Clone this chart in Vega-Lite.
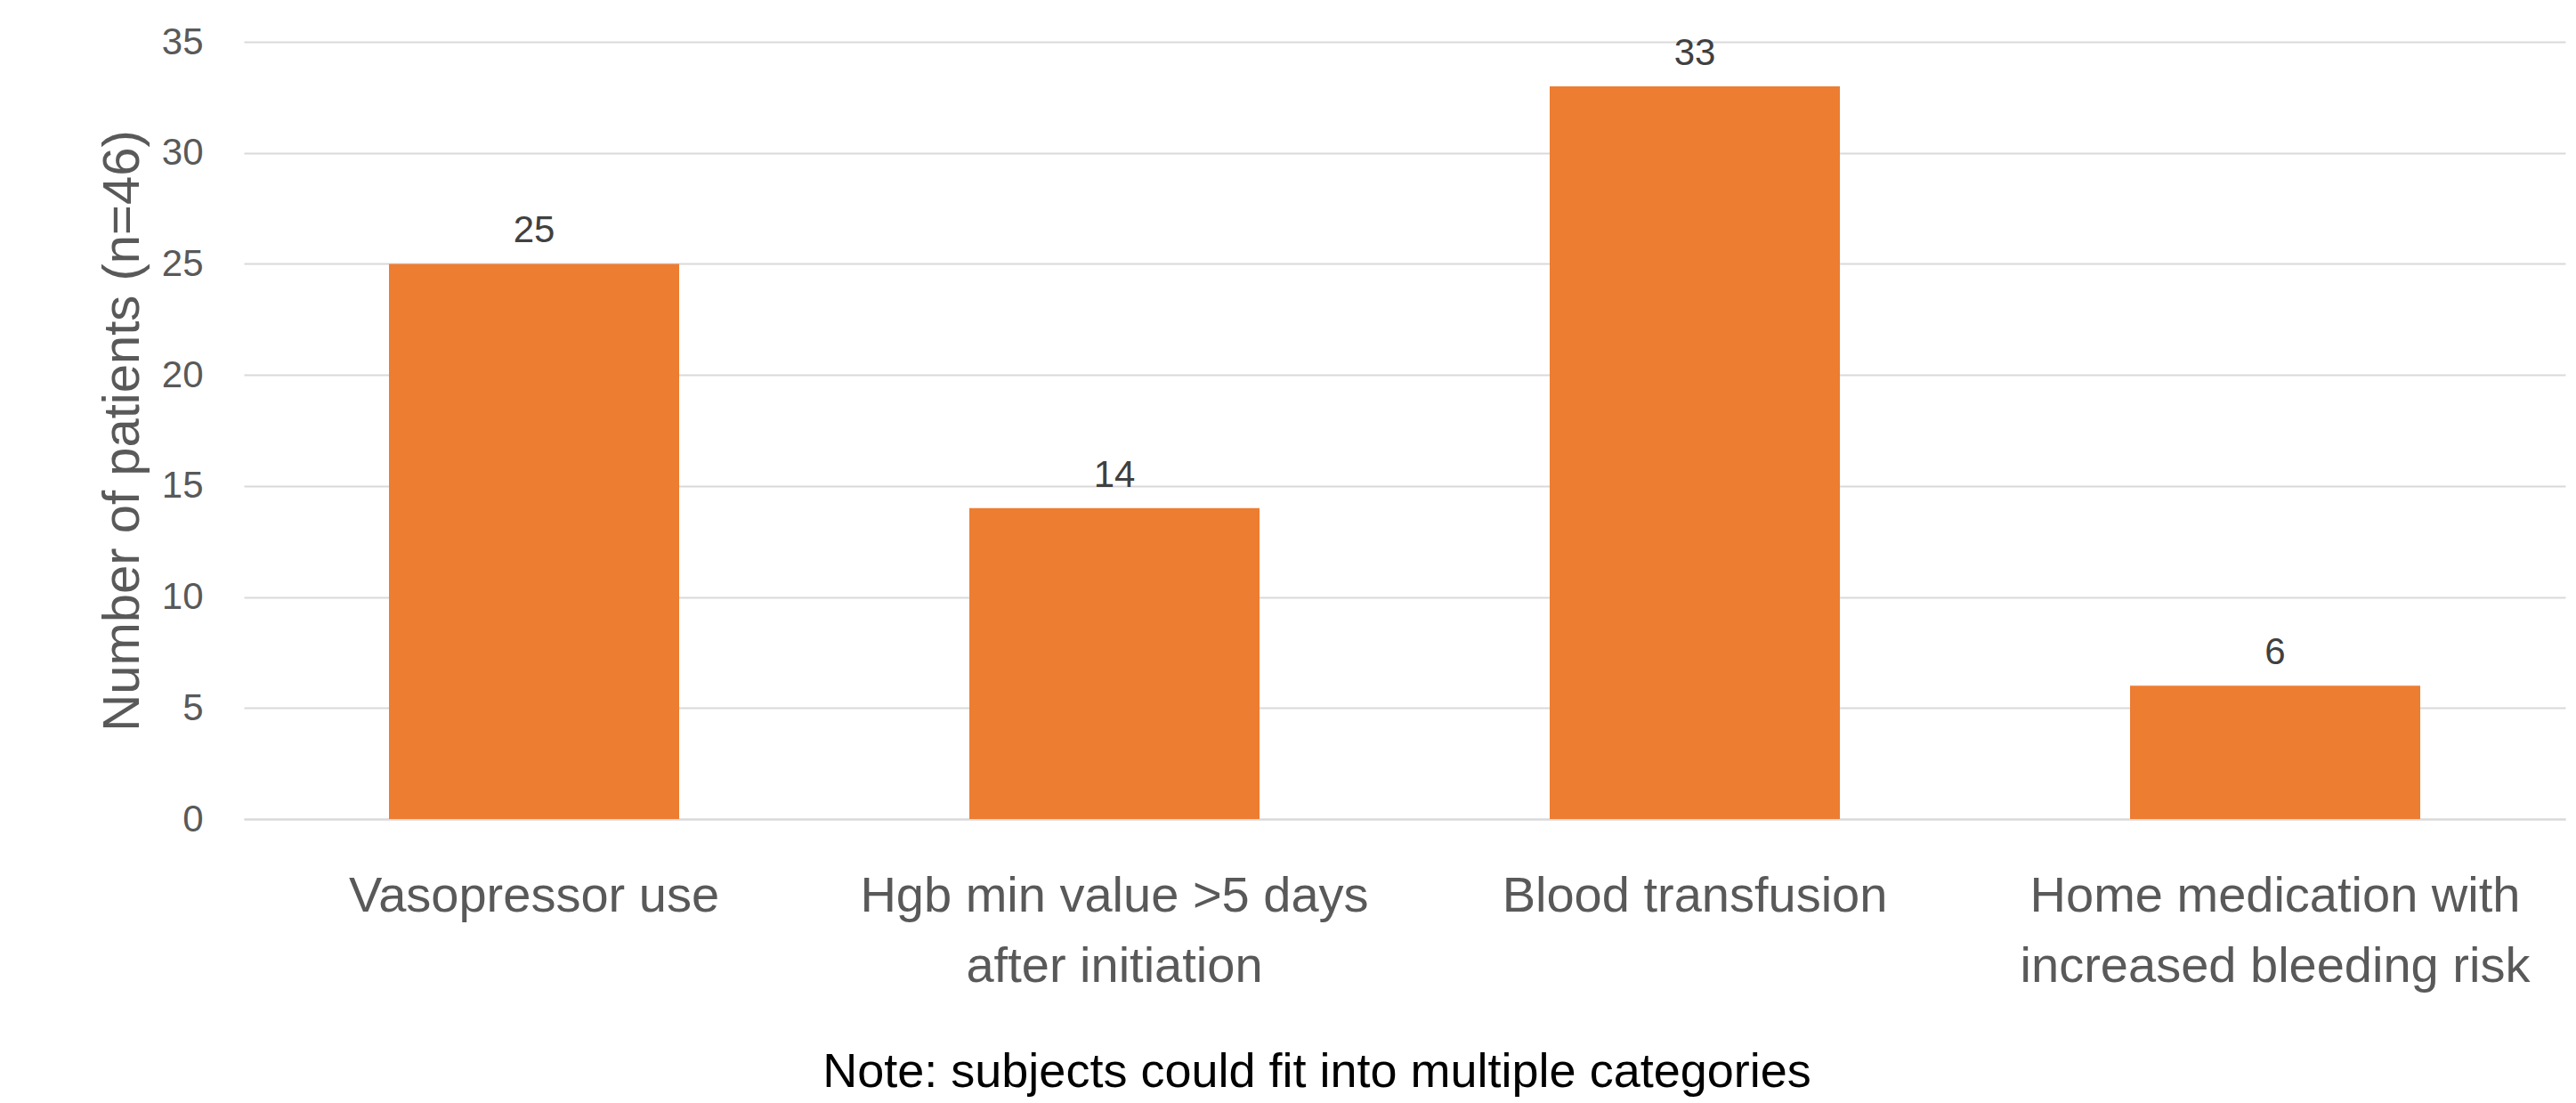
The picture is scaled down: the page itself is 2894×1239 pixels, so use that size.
{
  "$schema": "https://vega.github.io/schema/vega-lite/v6.json",
  "width": 2608,
  "height": 873,
  "autosize": {"type": "none"},
  "padding": {"left": 274, "top": 47, "right": 12, "bottom": 319},
  "background": "white",
  "data": {
    "values": [
      {"category": "Vasopressor use", "patients": 25},
      {"category": "Hgb min value >5 days after initiation", "patients": 14},
      {"category": "Blood transfusion", "patients": 33},
      {"category": "Home medication with increased bleeding risk", "patients": 6}
    ]
  },
  "encoding": {
    "x": {
      "field": "category",
      "type": "nominal",
      "sort": null,
      "scale": {"paddingInner": 0.5, "paddingOuter": 0.25},
      "axis": {
        "title": "Note: subjects could fit into multiple categories",
        "titleFont": "Liberation Sans",
        "titleFontSize": 54,
        "titleFontWeight": "normal",
        "titleColor": "#000000",
        "titleX": 1205,
        "titleY": 300,
        "titleAlign": "center",
        "titleBaseline": "alphabetic",
        "labelAngle": 0,
        "labelFont": "Liberation Sans",
        "labelFontSize": 56,
        "labelColor": "#595959",
        "labelPadding": 59,
        "labelLineHeight": 79,
        "labelLimit": 0,
        "labelExpr": "datum.value == 'Hgb min value >5 days after initiation' ? ['Hgb min value >5 days', 'after initiation'] : datum.value == 'Home medication with increased bleeding risk' ? ['Home medication with', 'increased bleeding risk'] : datum.label",
        "ticks": false,
        "domain": true,
        "domainColor": "#D9D9D9",
        "domainWidth": 2,
        "grid": false
      }
    },
    "y": {
      "field": "patients",
      "type": "quantitative",
      "scale": {"domain": [0, 35], "nice": false},
      "axis": {
        "title": "Number of patients (n=46)",
        "titleFont": "Liberation Sans",
        "titleFontSize": 58,
        "titleFontWeight": "normal",
        "titleColor": "#595959",
        "titlePadding": 14,
        "values": [0, 5, 10, 15, 20, 25, 30, 35],
        "labelFont": "Liberation Sans",
        "labelFontSize": 42,
        "labelColor": "#595959",
        "labelPadding": 46,
        "ticks": false,
        "domain": false,
        "grid": true,
        "gridColor": "#D9D9D9",
        "gridWidth": 2
      }
    }
  },
  "layer": [
    {
      "mark": {"type": "bar", "color": "#ED7D31"}
    },
    {
      "mark": {
        "type": "text",
        "font": "Liberation Sans",
        "fontSize": 42,
        "color": "#404040",
        "baseline": "alphabetic",
        "align": "center",
        "dy": -24
      },
      "encoding": {
        "text": {"field": "patients", "type": "quantitative"}
      }
    }
  ],
  "config": {
    "view": {"stroke": null}
  }
}
